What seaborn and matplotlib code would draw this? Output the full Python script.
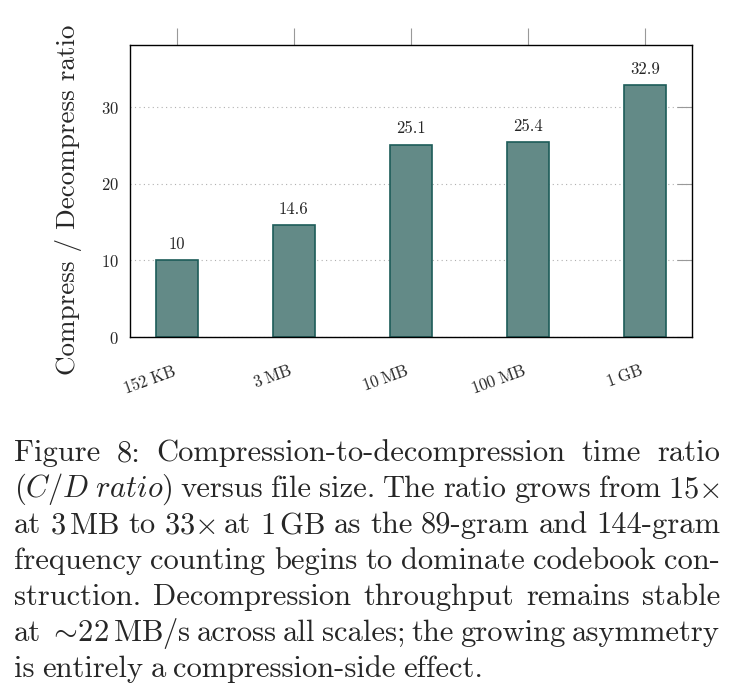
import matplotlib
matplotlib.use("Agg")
import matplotlib.pyplot as plt
import matplotlib.transforms as mtransforms
import seaborn as sns

sizes = ["152$\\;$KB", "3$\\;$MB", "10$\\;$MB", "100$\\;$MB", "1$\\;$GB"]
ratios = [10, 14.6, 25.1, 25.4, 32.9]
yticks = [0, 10, 20, 30]

caption = [
    "Figure 8:  Compression-to-decompression time ratio",
    "($\\mathit{C/D\\;ratio}$) versus file size. The ratio grows from 15$\\times$",
    "at 3$\\,$MB to 33$\\times$ at 1$\\,$GB as the 89-gram and 144-gram",
    "frequency counting begins to dominate codebook con-",
    "struction. Decompression throughput remains stable",
    "at ${\\sim}\\!$22$\\,$MB/s across all scales; the growing asymmetry",
    "is entirely a compression-side effect.",
]

sns.set_style("white")
plt.rcParams["font.family"] = ["cmr10"]
plt.rcParams["mathtext.fontset"] = "cm"
plt.rcParams["axes.unicode_minus"] = False
plt.rcParams["axes.formatter.use_mathtext"] = True

fig = plt.figure(figsize=(7.38, 7.0), dpi=100)
ax = fig.add_axes([130 / 738, 1 - 337 / 700, 562 / 738, 292 / 700])

sns.barplot(x=sizes, y=ratios, color="#638a87", edgecolor="#1d5c59",
            linewidth=1.2, width=0.36, saturation=1, ax=ax)
ax.bar_label(ax.containers[0], labels=[f"{v:g}" for v in ratios],
             padding=6, fontsize=12)

ax.set_xlim(-0.4, 4.4)
ax.set_ylim(0, 38.1)
ax.set_yticks(yticks)
ax.yaxis.grid(True, linestyle=(0, (1, 3)), color="#b0b0b0", linewidth=0.8)
ax.set_axisbelow(True)
for s in ax.spines.values():
    s.set_color("black")
    s.set_linewidth(1.0)

ax.tick_params(axis="y", direction="in", length=11, width=0.8, color="#999999",
               right=True, labelsize=12, pad=8)
ax.tick_params(axis="x", direction="out", length=12, width=0.8, color="#999999",
               top=True, labelsize=12, pad=6)
shift = mtransforms.ScaledTranslation(-5 / 100, 0, fig.dpi_scale_trans)
for lab in ax.get_xticklabels():
    lab.set_rotation(20)
    lab.set_ha("right")
    lab.set_va("top")
    lab.set_rotation_mode("anchor")
    lab.set_transform(lab.get_transform() + shift)
ax.set_xlabel("")
ax.set_ylabel("Compress / Decompress ratio", fontsize=19.5)
ax.yaxis.set_label_coords((82 - 130) / 562, 0.469)

# justified caption
fig.canvas.draw()
renderer = fig.canvas.get_renderer()
left, right = 14, 720
y0, dy = 700 - 461, 36
for i, line in enumerate(caption):
    words = line.split()
    texts = [fig.text(0, 0, w, fontsize=22, va="baseline") for w in words]
    widths = [t.get_window_extent(renderer).width for t in texts]
    if i < len(caption) - 1 and len(words) > 1:
        gap = (right - left - sum(widths)) / (len(words) - 1)
    else:
        gap = 7.5
    x = left
    for t, w in zip(texts, widths):
        t.set_position((x / 738, (y0 - i * dy) / 700))
        x += w + gap

fig.savefig("out.png", dpi=100)
